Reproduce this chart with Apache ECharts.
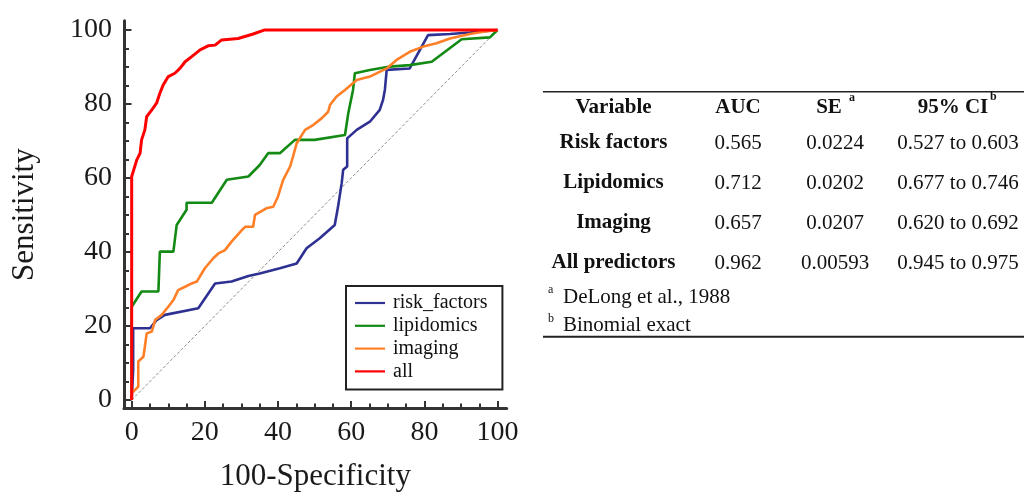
<!DOCTYPE html>
<html>
<head>
<meta charset="utf-8">
<script src="https://cdn.jsdelivr.net/npm/echarts@6.0.0/dist/echarts.min.js"></script>
<style>
  html, body { margin: 0; padding: 0; background: #ffffff; }
  #chart { width: 1024px; height: 493px; }
</style>
</head>
<body>
<div id="chart"></div>
<script>
// ---------- data ----------
const seriesNames = ['risk_factors', 'lipidomics', 'imaging', 'all'];

const riskFactors = [[0,0],[0.4,8.1],[0.4,19.4],[5,19.4],[6.8,21.6],[9.1,23],[18.2,24.8],[22.8,31.5],[27.3,32],[31.9,33.5],[35,34.2],[40.5,35.6],[45.1,36.9],[47.8,41],[51.4,43.7],[55.5,47.3],[56.4,52.2],[57.4,58.6],[57.8,62.2],[58.9,63.1],[58.9,70.7],[61.5,73],[65.1,75.2],[67.8,78.4],[68.7,81.1],[69.2,83.8],[69.7,89.2],[76,89.6],[81,98.6],[87,98.9],[92.4,99.3],[100,100]];

const lipidomics = [[0,0],[0,25.2],[2.7,29.3],[7.3,29.3],[7.7,40.1],[11.4,40.1],[12.3,47.3],[15,51.4],[15,53.3],[21.9,53.3],[26,59.5],[31.9,60.4],[35,63.5],[37.3,66.7],[40.5,66.7],[44.6,70.3],[50,70.3],[58.3,71.6],[59.2,77.5],[60.5,83.8],[61,88.3],[65.1,89.2],[70.6,90.1],[76,90.5],[82,91.4],[90.2,97.5],[97.9,98],[100,100]];

const imaging = [[0,0],[0,1.8],[1.8,3.6],[1.8,10.4],[3.2,11.7],[3.6,14.4],[4.1,18],[5.5,18.5],[6.4,21.6],[8.2,23],[10,25.2],[11.4,27],[12.7,29.7],[14.6,30.6],[16.4,31.5],[17.8,32],[20,35.6],[22.3,38.3],[23.7,39.6],[25.5,40.5],[27.3,42.8],[30.1,45.9],[31,46.8],[33.2,46.8],[33.7,50],[36.8,51.8],[38.7,52.2],[40,55],[41.4,59.5],[43.3,63.1],[44.1,65.8],[45.1,69.4],[47.4,73],[49.6,74.3],[51.9,76.1],[53.7,77.9],[54.2,79.7],[56,82],[58.3,83.8],[61.5,86.5],[65.1,87.4],[69.7,89.6],[72.4,91.9],[76,94.1],[79.7,95.5],[83.3,96.4],[87,97.7],[92.4,98.9],[96.1,99.5],[100,100]];

const allPredictors = [[0,0],[0,55],[0,60.4],[0.4,60.8],[1.4,64.9],[2.3,66.7],[2.7,70.3],[3.6,73],[4.1,76.6],[5.5,78.4],[6.8,80.2],[7.7,82.9],[8.6,85.1],[10,87.4],[11.8,88.3],[13.2,89.6],[14.6,91.4],[16.4,92.8],[18.7,94.6],[20.9,95.7],[22.8,95.9],[24.6,97.3],[29.1,97.7],[33.2,98.9],[36.4,100],[100,100]];

const chanceLine = [[0,0],[100,100]];

const majorTicks = [0, 20, 40, 60, 80, 100];
const minorTicks = [0, 5, 10, 15, 20, 25, 30, 35, 40, 45, 50, 55, 60, 65, 70, 75, 80, 85, 90, 95, 100];

const tableHeaders = ['Variable', 'AUC', 'SE', '95% CI'];
const tableVariables = ['Risk factors', 'Lipidomics', 'Imaging', 'All predictors'];
const tableAUC = ['0.565', '0.712', '0.657', '0.962'];
const tableSE = ['0.0224', '0.0202', '0.0207', '0.00593'];
const tableCI = ['0.527 to 0.603', '0.677 to 0.746', '0.620 to 0.692', '0.945 to 0.975'];
const footnoteMarks = ['a', 'b'];
const footnotes = ['DeLong et al., 1988', 'Binomial exact'];

// ---------- styles ----------
const SERIF = '"Liberation Serif", "Times New Roman", serif';
const AXIS_COLOR = '#333333';
const colors = ['#2e3192', '#138a13', '#ff7f27', '#ff0000'];

function makeAxes(kind) {
  const isX = kind === 'x';
  const base = {
    type: 'value',
    min: isX ? -2.1 : -2.3,
    max: 102.5,
    position: isX ? 'bottom' : 'left',
    splitLine: { show: false }
  };
  const main = Object.assign({}, base, {
    axisLine: { show: true, onZero: false, lineStyle: { color: AXIS_COLOR, width: 3 } },
    axisTick: { show: true, inside: true, length: 5, customValues: minorTicks,
                lineStyle: { color: AXIS_COLOR, width: 2 } },
    axisLabel: { show: true, customValues: majorTicks, margin: isX ? 10 : 12,
                 fontFamily: SERIF, fontSize: 28, color: '#1a1a1a' },
    name: isX ? '100-Specificity' : 'Sensitivity',
    nameLocation: 'middle',
    nameGap: isX ? 53 : 84,
    nameTextStyle: { fontFamily: SERIF, fontSize: 31, color: '#1a1a1a' }
  });
  const major = Object.assign({}, base, {
    axisLine: { show: false, onZero: false },
    axisTick: { show: true, inside: true, length: 7.5, customValues: majorTicks,
                lineStyle: { color: AXIS_COLOR, width: 2 } },
    axisLabel: { show: false }
  });
  return [main, major];
}

const curveData = [riskFactors, lipidomics, imaging, allPredictors];
const series = curveData.map(function (d, i) {
  return {
    name: seriesNames[i],
    type: 'line',
    data: d,
    xAxisIndex: 0,
    yAxisIndex: 0,
    showSymbol: false,
    symbol: 'none',
    lineStyle: { color: colors[i], width: i === 3 ? 3 : 2.6 },
    itemStyle: { color: colors[i] },
    z: 3 + i
  };
});
series.unshift({
  name: 'chance',
  type: 'line',
  data: chanceLine,
  xAxisIndex: 0,
  yAxisIndex: 0,
  showSymbol: false,
  symbol: 'none',
  lineStyle: { color: '#8c8c8c', width: 1, type: [3, 2] },
  z: 2,
  silent: true
});

// ---------- table (graphic text) ----------
const colX = [613.5, 738, 835, 958];
const headerY = 108;
const rowY = [143, 183, 223, 263];
const graphics = [];
function txt(text, x, y, opts) {
  opts = opts || {};
  graphics.push({
    type: 'text',
    silent: true,
    style: {
      text: text, x: x, y: y,
      fill: '#111111',
      font: (opts.bold ? 'bold ' : '') + (opts.size || 21) + 'px ' + SERIF,
      align: opts.align || 'center',
      verticalAlign: 'middle',
      textAlign: opts.align || 'center',
      textVerticalAlign: 'middle'
    }
  });
}
graphics.push({ type: 'line', silent: true, shape: { x1: 543, y1: 91.7, x2: 1024, y2: 91.7 },
                style: { stroke: '#222222', lineWidth: 1.6 } });
graphics.push({ type: 'line', silent: true, shape: { x1: 543, y1: 336.7, x2: 1024, y2: 336.7 },
                style: { stroke: '#222222', lineWidth: 2 } });
txt(tableHeaders[0], colX[0], headerY, { bold: true });
txt(tableHeaders[1], colX[1], headerY, { bold: true });
txt(tableHeaders[2], 829, headerY, { bold: true });
txt(tableHeaders[3], 953, headerY, { bold: true });
txt(footnoteMarks[0], 849, 97.5, { bold: true, size: 12, align: 'left' });
txt(footnoteMarks[1], 990, 96.7, { bold: true, size: 12, align: 'left' });
tableVariables.forEach(function (v, i) {
  txt(v, colX[0], rowY[i], { bold: true });
  txt(tableAUC[i], colX[1], rowY[i]);
  txt(tableSE[i], colX[2], rowY[i]);
  txt(tableCI[i], colX[3], rowY[i]);
});
txt(footnoteMarks[0], 548, 290, { size: 12, align: 'left' });
txt(footnotes[0], 563, 297, { align: 'left' });
txt(footnoteMarks[1], 548, 318.5, { size: 12, align: 'left' });
txt(footnotes[1], 563, 325, { align: 'left' });

// ---------- chart ----------
const chart = echarts.init(document.getElementById('chart'), null, { renderer: 'canvas' });
chart.setOption({
  animation: false,
  backgroundColor: '#ffffff',
  grid: { left: 124, right: 517.3, top: 20.7, bottom: 84.5, containLabel: false, outerBoundsMode: 'none' },
  xAxis: makeAxes('x'),
  yAxis: makeAxes('y'),
  legend: {
    data: seriesNames,
    orient: 'vertical',
    left: 346,
    top: 286,
    padding: [7, 15, 8, 9],
    itemWidth: 30,
    itemHeight: 2.2,
    itemGap: 2.8,
    icon: 'rect',
    borderColor: '#222222',
    borderWidth: 2,
    backgroundColor: '#ffffff',
    selectedMode: false,
    textStyle: { fontFamily: SERIF, fontSize: 20, color: '#111111', lineHeight: 20, padding: [0, 0, 0, 3] }
  },
  series: series,
  graphic: graphics
});
</script>
</body>
</html>
